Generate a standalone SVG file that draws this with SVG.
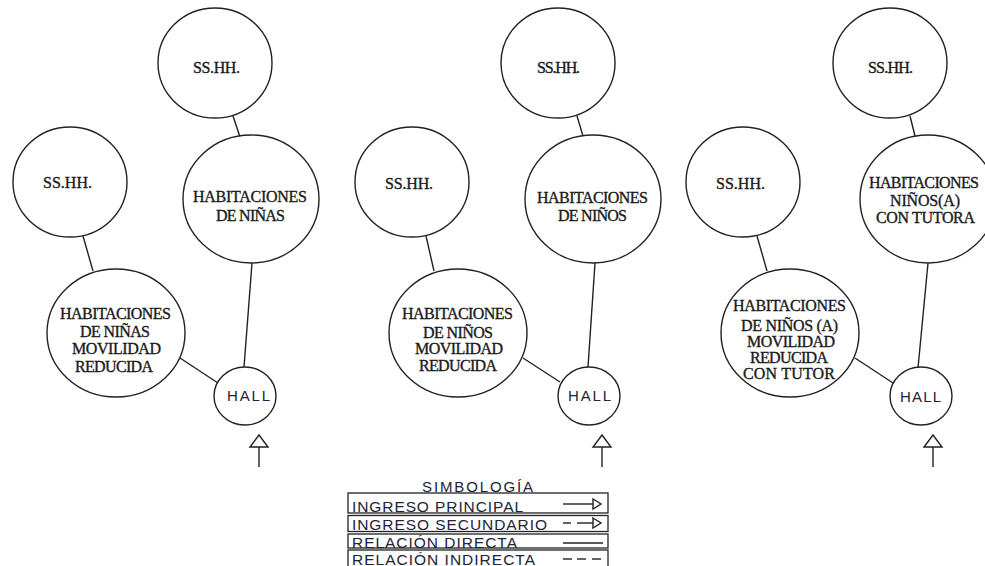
<svg xmlns="http://www.w3.org/2000/svg" width="985" height="566" viewBox="0 0 985 566">
<style>
.n{fill:#fff;stroke:#222;stroke-width:1.4}
.c{stroke:#222;stroke-width:1.4;fill:none}
.t{font-family:"Liberation Serif","Times New Roman",serif;font-size:16px;fill:#1a1a1a;stroke:#1a1a1a;stroke-width:0.35;text-anchor:middle}
.h{font-family:"Liberation Sans",Arial,sans-serif;font-size:15px;fill:#222238;text-anchor:middle}
.lg{font-family:"Liberation Sans",Arial,sans-serif;font-size:15.5px;fill:#222238}
.ar{fill:#fff;stroke:#222;stroke-width:1.4}
.box{fill:none;stroke:#222;stroke-width:1.3}
</style>
<rect width="985" height="566" fill="#fff"/>
<g id="connectors">
<line class="c" x1="233" y1="116" x2="240" y2="137"/>
<line class="c" x1="83" y1="236" x2="93" y2="271"/>
<line class="c" x1="252" y1="263" x2="244" y2="367"/>
<line class="c" x1="180" y1="358" x2="218" y2="383"/>
<line class="c" x1="259" y1="447" x2="259" y2="467"/>
<polygon class="ar" points="259,435 250,447 268,447"/>
<line class="c" x1="577" y1="116" x2="583" y2="136"/>
<line class="c" x1="426" y1="236" x2="434" y2="271"/>
<line class="c" x1="595" y1="263" x2="588" y2="367"/>
<line class="c" x1="523" y1="358" x2="560" y2="382"/>
<line class="c" x1="602" y1="447" x2="602" y2="467"/>
<polygon class="ar" points="602,435 593,447 611,447"/>
<line class="c" x1="910" y1="116" x2="915" y2="136"/>
<line class="c" x1="757" y1="236" x2="767" y2="271"/>
<line class="c" x1="928" y1="263" x2="918" y2="368"/>
<line class="c" x1="855" y1="358" x2="893" y2="383"/>
<line class="c" x1="933" y1="447" x2="933" y2="467"/>
<polygon class="ar" points="933,435 924,447 942,447"/>
</g>
<g id="p1-sshh-top"><ellipse class="n" cx="215" cy="63" rx="57" ry="55"/><text class="t" x="216.5" y="73" textLength="47">SS.HH.</text></g>
<g id="p1-sshh-left"><ellipse class="n" cx="70" cy="182" rx="57" ry="55"/><text class="t" x="67.5" y="188" textLength="49">SS.HH.</text></g>
<g id="p1-hab"><ellipse class="n" cx="251" cy="199" rx="68" ry="64"/><text class="t" x="250" y="201.5" textLength="114">HABITACIONES</text><text class="t" x="250.5" y="220.5" textLength="69">DE NIÑAS</text></g>
<g id="p1-mov"><ellipse class="n" cx="116" cy="333" rx="69" ry="64"/><text class="t" x="115.5" y="318.5" textLength="111">HABITACIONES</text><text class="t" x="115" y="336.5" textLength="70">DE NIÑAS</text><text class="t" x="116.5" y="353.5" textLength="89">MOVILIDAD</text><text class="t" x="114" y="371.5" textLength="78">REDUCIDA</text></g>
<g id="p1-hall"><ellipse class="n" cx="245" cy="396" rx="31" ry="29"/><text class="h" x="248.5" y="401" textLength="43">HALL</text></g>
<g id="p2-sshh-top"><ellipse class="n" cx="558" cy="63" rx="57" ry="55"/><text class="t" x="558.5" y="72.5" textLength="43">SS.HH.</text></g>
<g id="p2-sshh-left"><ellipse class="n" cx="412" cy="182" rx="57" ry="55"/><text class="t" x="409" y="188.5" textLength="48">SS.HH.</text></g>
<g id="p2-hab"><ellipse class="n" cx="593" cy="199" rx="68" ry="64"/><text class="t" x="592.5" y="202.5" textLength="111">HABITACIONES</text><text class="t" x="592.5" y="220.5" textLength="69">DE NIÑOS</text></g>
<g id="p2-mov"><ellipse class="n" cx="458" cy="333" rx="69" ry="64"/><text class="t" x="457.5" y="318.5" textLength="111">HABITACIONES</text><text class="t" x="458" y="337.5" textLength="70">DE NIÑOS</text><text class="t" x="459" y="353.5" textLength="88">MOVILIDAD</text><text class="t" x="458" y="370.5" textLength="78">REDUCIDA</text></g>
<g id="p2-hall"><ellipse class="n" cx="589" cy="396" rx="31" ry="29"/><text class="h" x="589.5" y="401" textLength="43">HALL</text></g>
<g id="p3-sshh-top"><ellipse class="n" cx="890" cy="63" rx="57" ry="55"/><text class="t" x="890.5" y="72.5" textLength="45">SS.HH.</text></g>
<g id="p3-sshh-left"><ellipse class="n" cx="743" cy="182" rx="57" ry="55"/><text class="t" x="740.5" y="188.5" textLength="49">SS.HH.</text></g>
<g id="p3-hab"><ellipse class="n" cx="928" cy="199" rx="68" ry="64"/><text class="t" x="924" y="187.5" textLength="110">HABITACIONES</text><text class="t" x="925" y="205.5" textLength="70">NIÑOS(A)</text><text class="t" x="925.5" y="222.5" textLength="99">CON TUTORA</text></g>
<g id="p3-mov"><ellipse class="n" cx="790" cy="333" rx="69" ry="64"/><text class="t" x="789.5" y="310.5" textLength="113">HABITACIONES</text><text class="t" x="789.5" y="330.5" textLength="97">DE NIÑOS (A)</text><text class="t" x="791" y="346.5" textLength="88">MOVILIDAD</text><text class="t" x="789" y="362.5" textLength="78">REDUCIDA</text><text class="t" x="789" y="378.5" textLength="92">CON  TUTOR</text></g>
<g id="p3-hall"><ellipse class="n" cx="921" cy="396" rx="31" ry="29"/><text class="h" x="920.5" y="401.5" textLength="41">HALL</text></g>
<g id="legend">
<text class="lg" x="422" y="492" textLength="111" style="font-size:15px">SIMBOLOGÍA</text>
<rect class="box" x="348" y="493" width="260" height="20"/>
<rect class="box" x="348" y="515.5" width="260" height="16"/>
<rect class="box" x="348" y="534" width="260" height="14"/>
<rect class="box" x="348" y="550" width="260" height="20"/>
<text class="lg" x="352" y="512" textLength="171">INGRESO PRINCIPAL</text>
<text class="lg" x="352" y="530" textLength="195">INGRESO SECUNDARIO</text>
<text class="lg" x="352" y="547.5" textLength="165">RELACIÓN DIRECTA</text>
<text class="lg" x="352" y="564.5" textLength="183">RELACIÓN INDIRECTA</text>
<line class="c" x1="563" y1="504" x2="594" y2="504"/>
<polygon class="ar" points="593,499 601,504 593,509"/>
<line class="c" x1="563" y1="523" x2="571" y2="523"/>
<line class="c" x1="577" y1="523" x2="594" y2="523"/>
<polygon class="ar" points="593,518 601,523 593,528"/>
<line class="c" x1="563" y1="543" x2="603" y2="543"/>
<line class="c" x1="563" y1="559" x2="572" y2="559"/>
<line class="c" x1="577" y1="559" x2="586" y2="559"/>
<line class="c" x1="592" y1="559" x2="601" y2="559"/>
</g>
</svg>
